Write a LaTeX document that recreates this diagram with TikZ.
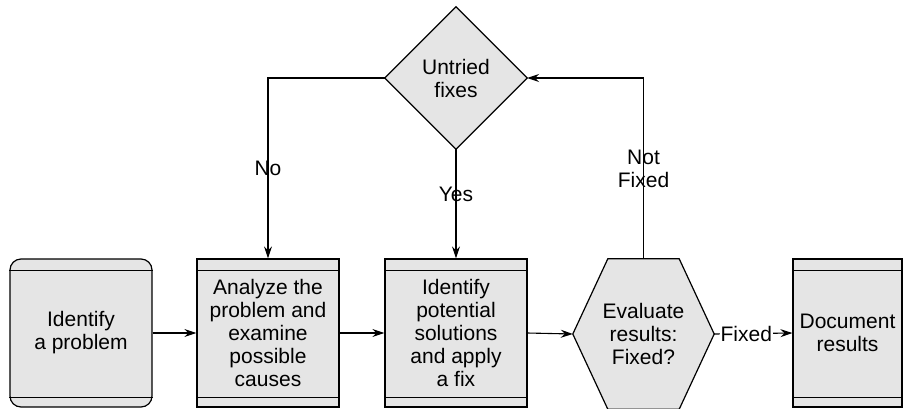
\documentclass[tikz,border=0pt]{standalone}
\usepackage{fontspec}
\setmainfont{Liberation Sans}
\usetikzlibrary{arrows.meta}
\definecolor{boxgray}{HTML}{E5E5E5}
\begin{document}
\begin{tikzpicture}[x=1pt,y=-1pt,
  every node/.style={font=\fontsize{21}{23}\selectfont, align=center},
  shapebox/.style={draw=black, fill=boxgray, line width=1.2pt, inner sep=0pt},
  bandbox/.style={shapebox, rectangle, minimum width=142pt, minimum height=148pt},
  blank/.style={inner sep=0pt, rectangle},
  conn/.style={line width=1.1pt, -{Stealth[length=12pt,width=8pt,inset=4pt]}},
  lbl/.style={inner sep=1pt}
]
\useasboundingbox (0,0) rectangle (904,408);

% boxes
\node[bandbox, rounded corners=11pt] (b1) at (81,333) {Identify\\a problem};
\node[bandbox] (b2) at (268,333) {Analyze the\\problem and\\examine\\possible\\causes};
\node[bandbox] (b3) at (456,333) {Identify\\potential\\solutions\\and apply\\a fix};
\node[bandbox, minimum width=109pt] (b5) at (847.5,333) {Document\\results};

% bands
\foreach \b in {b1,b2,b3,b5}{
  \draw[line width=1.2pt] ([yshift=-12pt]\b.north west) -- ([yshift=-12pt]\b.north east);
  \draw[line width=1.2pt] ([yshift=10pt]\b.south west) -- ([yshift=10pt]\b.south east);
}

% hexagon
\node[blank, minimum width=141pt, minimum height=150pt] (hex) at (643.5,334) {};
\filldraw[fill=boxgray, draw=black, line width=1.2pt]
  (hex.west) -- ([xshift=35pt]hex.north west) -- ([xshift=-35pt]hex.north east)
  -- (hex.east) -- ([xshift=-35pt]hex.south east) -- ([xshift=35pt]hex.south west) -- cycle;
\node at (hex.center) {Evaluate\\results:\\Fixed?};

% diamond
\node[blank, minimum width=142pt, minimum height=142pt] (dia) at (456,78) {};
\filldraw[fill=boxgray, draw=black, line width=1.2pt]
  (dia.north) -- (dia.east) -- (dia.south) -- (dia.west) -- cycle;
\node at (dia.center) {Untried\\fixes};

% connectors
\draw[conn] (b1.east) -- (b2.west);
\draw[conn] (b2.east) -- (b3.west);
\draw[conn] (b3.east) -- (hex.west);
\draw[conn] (hex.east) -- node[lbl, fill=white, pos=0.41] {Fixed} (b5.west);
\draw[conn] (hex.north) |- node[lbl, pos=0.25] {Not\\Fixed} (dia.east);
\draw[conn] (dia.west) -| node[lbl, pos=0.75] {No} (b2.north);
\draw[conn] (dia.south) -- node[lbl, pos=0.41] {Yes} (b3.north);
\end{tikzpicture}
\end{document}
